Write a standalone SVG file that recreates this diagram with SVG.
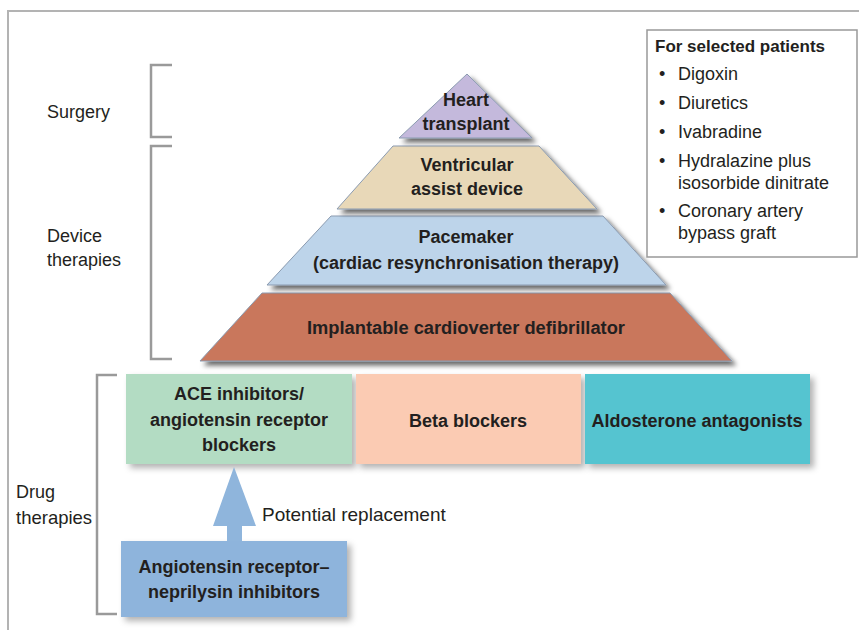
<svg xmlns="http://www.w3.org/2000/svg" width="859" height="630" viewBox="0 0 859 630">
<defs>
<filter id="sh" x="-10%" y="-10%" width="125%" height="135%">
<feDropShadow dx="4" dy="4" stdDeviation="2.5" flood-color="#000" flood-opacity="0.6"/>
</filter>
<filter id="sh2" x="-10%" y="-10%" width="125%" height="135%">
<feDropShadow dx="4" dy="4" stdDeviation="3" flood-color="#000" flood-opacity="0.3"/>
</filter>
</defs>
<style>
.t{font-family:"Liberation Sans",Arial,sans-serif;fill:#231f20;font-size:18px}
.b{font-weight:bold}
.c{text-anchor:middle}
.br{fill:none;stroke:#9a9a9a;stroke-width:2.5}
.lay{stroke:#8b9bb0;stroke-width:1;filter:url(#sh)}
.box{filter:url(#sh2)}
</style>
<g id="frame">
<path d="M8 630 V11 H859" fill="none" stroke="#b3b3b3" stroke-width="2"/>
</g>
<g id="brackets">
<path class="br" d="M172 65 H151 V137 H172"/>
<path class="br" d="M172 146 H151 V359 H172"/>
<path class="br" d="M117 375 H97 V614 H117"/>
</g>
<g id="label-surgery"><text class="t" x="47" y="118">Surgery</text></g>
<g id="label-device"><text class="t" x="47" y="242">Device</text><text class="t" x="47" y="266">therapies</text></g>
<g id="label-drug"><text class="t" x="16" y="498">Drug</text><text class="t" x="16" y="524" style="font-size:18.5px">therapies</text></g>

<g id="node-icd">
<polygon class="lay" fill="#c9775c" points="262,293 670,293 732,361 200,361"/>
<text class="t b c" x="466" y="334" style="font-size:18.3px">Implantable cardioverter defibrillator</text>
</g>
<g id="node-pacemaker">
<polygon class="lay" fill="#bdd4ea" points="331,216 603,216 666,285 267,285"/>
<text class="t b c" x="466" y="243">Pacemaker</text>
<text class="t b c" x="466" y="269">(cardiac resynchronisation therapy)</text>
</g>
<g id="node-vad">
<polygon class="lay" fill="#e8d8b8" points="393,146 539,146 597,209 337,209"/>
<text class="t b c" x="467" y="171">Ventricular</text>
<text class="t b c" x="467" y="195">assist device</text>
</g>
<g id="node-heart">
<polygon class="lay" fill="#c4b9dc" points="467,74 532,138 399,138"/>
<text class="t b c" x="466" y="106">Heart</text>
<text class="t b c" x="466" y="130">transplant</text>
</g>

<g id="node-ace">
<rect class="box" x="126" y="374" width="226" height="90" fill="#b3dcc3"/>
<text class="t b c" x="239" y="400">ACE inhibitors/</text>
<text class="t b c" x="239" y="426">angiotensin receptor</text>
<text class="t b c" x="239" y="451">blockers</text>
</g>
<g id="node-beta">
<rect class="box" x="356" y="374" width="225" height="90" fill="#fbcbb3"/>
<text class="t b c" x="468" y="427">Beta blockers</text>
</g>
<g id="node-aldo">
<rect class="box" x="585" y="374" width="225" height="90" fill="#55c4d0"/>
<text class="t b c" x="697" y="427">Aldosterone antagonists</text>
</g>
<g id="node-arni">
<rect class="box" x="121" y="541" width="226" height="76" fill="#8eb4dc"/>
<text class="t b c" x="234" y="573">Angiotensin receptor–</text>
<text class="t b c" x="234" y="598">neprilysin inhibitors</text>
</g>

<g id="connectors">
<polygon fill="#8fb5dc" points="234,467 256,526 242,526 242,541 227,541 227,526 213,526"/>
<text class="t" x="262" y="521" style="font-size:19px">Potential replacement</text>
</g>

<g id="node-selected">
<rect x="647" y="30" width="210" height="227" fill="#fff" stroke="#999" stroke-width="1.5"/>
<text class="t b" x="655" y="52" style="font-size:17px">For selected patients</text>
<g class="t" style="font-size:18px">
<text x="659" y="80">•</text><text x="678" y="80">Digoxin</text>
<text x="659" y="109">•</text><text x="678" y="109">Diuretics</text>
<text x="659" y="138">•</text><text x="678" y="138">Ivabradine</text>
<text x="659" y="167">•</text><text x="678" y="167">Hydralazine plus</text>
<text x="678" y="189">isosorbide dinitrate</text>
<text x="659" y="217">•</text><text x="678" y="217">Coronary artery</text>
<text x="678" y="239">bypass graft</text>
</g>
</g>
</svg>
